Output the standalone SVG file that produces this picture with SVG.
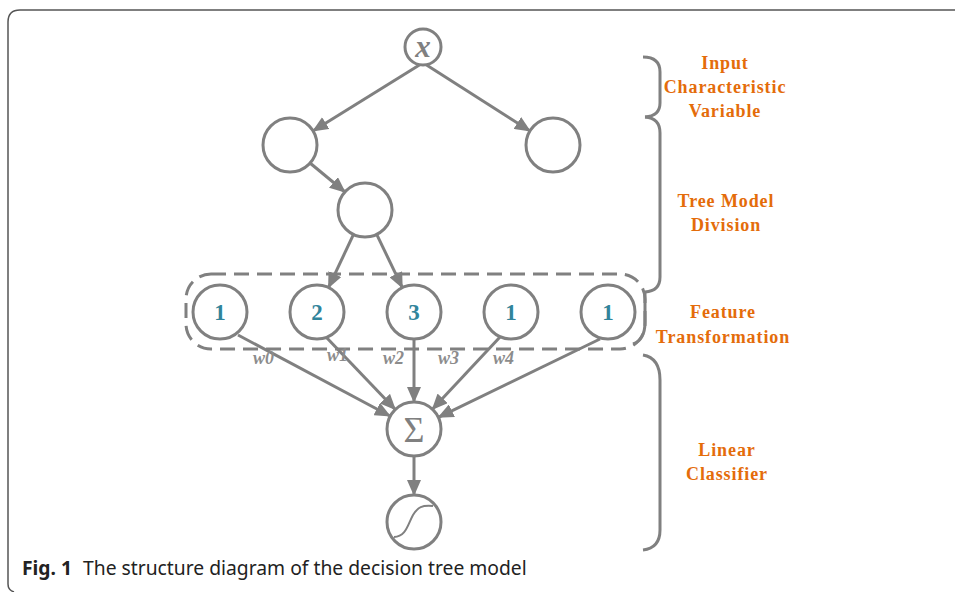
<svg xmlns="http://www.w3.org/2000/svg" width="955" height="592" viewBox="0 0 955 592">
<defs>
<marker id="ah" markerUnits="userSpaceOnUse" markerWidth="16" markerHeight="14" refX="15" refY="7" orient="auto">
<path d="M0,0 L16,7 L0,14 Z" fill="#808080"/>
</marker>
<style>
.nd{fill:#fff;stroke:#808080;stroke-width:3}
.num{font-family:"Liberation Serif",serif;font-weight:bold;font-size:23px;fill:#31849B;text-anchor:middle}
.cn{stroke:#808080;stroke-width:3;fill:none}
.w{font-family:"Liberation Serif",serif;font-weight:bold;font-style:italic;font-size:18px;fill:#8c8c8c}
.lab{font-family:"Liberation Serif",serif;font-weight:bold;font-size:18px;letter-spacing:0.9px;fill:#E46C0A;text-anchor:middle}
.br{stroke:#808080;stroke-width:3;fill:none}
</style>
</defs>
<rect width="955" height="592" fill="#fff"/>
<path d="M14,592 Q8,590 8,584 L8,22 Q8,10 20,10 L955,10" fill="none" stroke="#555" stroke-width="1.5"/>

<g id="connectors">
<line class="cn" x1="421" y1="64" x2="313" y2="131" marker-end="url(#ah)"/>
<line class="cn" x1="425" y1="64" x2="530" y2="131" marker-end="url(#ah)"/>
<line class="cn" x1="310" y1="163" x2="345" y2="192" marker-end="url(#ah)"/>
<line class="cn" x1="353.5" y1="234.4" x2="328.5" y2="287.6" marker-end="url(#ah)"/>
<line class="cn" x1="376.7" y1="234.3" x2="402.3" y2="287.7" marker-end="url(#ah)"/>
<line class="cn" x1="238" y1="335" x2="390" y2="416" marker-end="url(#ah)"/>
<line class="cn" x1="326" y1="337" x2="395.3" y2="409.5" marker-end="url(#ah)"/>
<line class="cn" x1="414" y1="339" x2="414" y2="402" marker-end="url(#ah)"/>
<line class="cn" x1="500" y1="337" x2="432.4" y2="409.3" marker-end="url(#ah)"/>
<line class="cn" x1="600" y1="339" x2="438.4" y2="417.3" marker-end="url(#ah)"/>
<line class="cn" x1="414" y1="456" x2="414" y2="495" marker-end="url(#ah)"/>
</g>

<g id="feature-box">
<rect x="186" y="274" width="459" height="75" rx="25" ry="25" fill="none" stroke="#808080" stroke-width="3" stroke-dasharray="15,8"/>
</g>

<g id="node-x">
<circle class="nd" cx="423" cy="47" r="18"/>
<text x="423" y="57" font-family="Liberation Serif,serif" font-style="italic" font-weight="bold" font-size="31" fill="#808080" text-anchor="middle">x</text>
</g>
<g id="node-l1a"><circle class="nd" cx="290" cy="145" r="27"/></g>
<g id="node-l1b"><circle class="nd" cx="553" cy="145" r="27"/></g>
<g id="node-l2"><circle class="nd" cx="365" cy="210" r="27"/></g>

<g id="f1"><circle class="nd" cx="220" cy="312" r="27"/><text class="num" x="220" y="320">1</text></g>
<g id="f2"><circle class="nd" cx="317" cy="312" r="27"/><text class="num" x="317" y="320">2</text></g>
<g id="f3"><circle class="nd" cx="414" cy="312" r="27"/><text class="num" x="414" y="320">3</text></g>
<g id="f4"><circle class="nd" cx="511" cy="312" r="27"/><text class="num" x="511" y="320">1</text></g>
<g id="f5"><circle class="nd" cx="608" cy="312" r="27"/><text class="num" x="608" y="320">1</text></g>

<g id="weights">
<text class="w" x="253" y="364">w0</text>
<text class="w" x="327" y="361">w1</text>
<text class="w" x="383" y="364">w2</text>
<text class="w" x="438" y="364">w3</text>
<text class="w" x="493" y="364">w4</text>
</g>

<g id="node-sum">
<circle class="nd" cx="414" cy="429" r="27"/>
<text x="414" y="442" font-family="Liberation Serif,serif" font-size="36" fill="#808080" text-anchor="middle">Σ</text>
</g>
<g id="node-sigmoid">
<circle class="nd" cx="414" cy="522" r="27"/>
<path d="M394,537 C406,537 408,524 413,515 C418,507 422,505 433,506" fill="none" stroke="#808080" stroke-width="2"/>
</g>

<g id="braces">
<path class="br" d="M643,57 Q660,57 660,72 L660,103 Q660,116 645,117"/>
<path class="br" d="M645,117 Q660,118 660,133 L660,277 Q660,291 645,292"/>
<path class="br" d="M645,292 L645,322 Q645,340 633,344"/>
<path class="br" d="M643,355 Q660,358 660,380 L660,530 Q660,548 643,550"/>
</g>

<g id="labels">
<text class="lab" x="725" y="69">Input</text>
<text class="lab" x="725" y="93">Characteristic</text>
<text class="lab" x="725" y="117">Variable</text>
<text class="lab" x="726" y="207">Tree Model</text>
<text class="lab" x="726" y="231">Division</text>
<text class="lab" x="723" y="318">Feature</text>
<text class="lab" x="723" y="343">Transformation</text>
<text class="lab" x="727" y="456">Linear</text>
<text class="lab" x="727" y="480">Classifier</text>
</g>

<g id="caption">
<text x="22" y="575" font-family="Noto Sans,sans-serif" font-size="19.3" fill="#222"><tspan font-weight="bold">Fig. 1</tspan><tspan dx="11">The structure diagram of the decision tree model</tspan></text>
</g>
</svg>
